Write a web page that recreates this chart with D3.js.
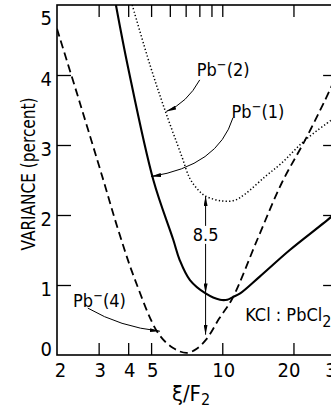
<!DOCTYPE html>
<html>
<head>
<meta charset="utf-8">
<script src="https://cdn.jsdelivr.net/npm/d3@7"></script>
<style>
  html, body { margin: 0; padding: 0; background: #fff; }
  svg { display: block; }
  text { font-family: "Liberation Sans Narrow", "DejaVu Sans Condensed", "Arial Narrow", sans-serif; fill: #000; }
</style>
</head>
<body>
<svg id="chart" width="331" height="409"></svg>
<script>
// ---------------- data ----------------
const xLabelValues = [2, 3, 4, 5, 10, 20, 30];
const xTicksBottom = [3, 4, 5, 10, 20];
const xTicksTop = [3, 4, 5, 6, 7, 8, 9, 10, 20];
const yLabelValues = [0, 1, 2, 3, 4, 5];
const yTickValues = [1, 2, 3, 4];

// Pb-(4) : dashed
const pb4Xi  = [2.0, 2.5, 3.14, 3.65, 4.28, 5.36, 6.2, 7.07, 7.8, 8.59, 9.7, 11.0, 14.19, 17.8, 22.4, 27.2, 30];
const pb4Val = [4.66, 3.6, 2.5, 1.76, 1.07, 0.31, 0.1, 0.03, 0.09, 0.23, 0.52, 0.8, 1.68, 2.45, 3.07, 3.64, 3.95];
// Pb-(1) : solid
const pb1Xi  = [3.55, 4.0, 5.11, 6.2, 6.6, 7.3, 8.5, 9.78, 10.5, 11.13, 11.9, 14.4, 19.3, 28.8, 30];
const pb1Val = [5.0, 4.1, 2.5, 1.65, 1.36, 1.07, 0.88, 0.79, 0.79, 0.83, 0.88, 1.12, 1.5, 1.97, 2.03];
// Pb-(2) : dotted
const pb2Xi  = [4.16, 4.94, 5.72, 6.72, 7.3, 7.9, 8.5, 10.0, 11.3, 12.5, 15.2, 17.8, 22.4, 29.0, 30];
const pb2Val = [5.0, 4.15, 3.5, 2.85, 2.52, 2.36, 2.27, 2.2, 2.21, 2.3, 2.55, 2.74, 3.07, 3.36, 3.4];

const markedXi = 8.5;      // vertical double arrow position
const markedTop = 2.27;    // on Pb-(2)
const markedMid = 0.88;    // on Pb-(1)
const markedBottom = 0.29; // near Pb-(4)

// ---------------- layout ----------------
const svg = d3.select("#chart");
const x = d3.scaleLog().domain([2, 30]).range([57, 335.1]);
const y = d3.scaleLinear().domain([0, 5]).range([355, 5]);

const defs = svg.append("defs");
defs.append("clipPath").attr("id", "plotclip")
  .append("rect").attr("x", x(2)).attr("y", y(5))
  .attr("width", x(30) - x(2)).attr("height", y(0) - y(5));
defs.append("marker").attr("id", "arrow")
  .attr("markerUnits", "userSpaceOnUse")
  .attr("viewBox", "0 0 10 4").attr("refX", 10).attr("refY", 2)
  .attr("markerWidth", 10).attr("markerHeight", 4).attr("orient", "auto")
  .append("path").attr("d", "M0,0 L10,2 L0,4 Z").attr("fill", "#000");

// ---------------- frame ----------------
svg.append("rect")
  .attr("x", x(2)).attr("y", y(5))
  .attr("width", x(30) - x(2)).attr("height", y(0) - y(5))
  .attr("fill", "none").attr("stroke", "#000").attr("stroke-width", 1.6);

function cleanAxis(g) {
  g.select(".domain").remove();
  g.selectAll("line").attr("stroke", "#000").attr("stroke-width", 1.3);
  g.selectAll("text").remove();
}
// inward ticks
svg.append("g").attr("transform", `translate(${x(2)},0)`)
  .call(d3.axisRight(y).tickValues(yTickValues).tickSize(14)).call(cleanAxis);
svg.append("g").attr("transform", `translate(${x(30)},0)`)
  .call(d3.axisLeft(y).tickValues(yTickValues).tickSize(12)).call(cleanAxis);
svg.append("g").attr("transform", `translate(0,${y(0)})`)
  .call(d3.axisTop(x).tickValues(xTicksBottom).tickSize(12)).call(cleanAxis);
svg.append("g").attr("transform", `translate(0,${y(5)})`)
  .call(d3.axisBottom(x).tickValues(xTicksTop).tickSize(12)).call(cleanAxis);

// tick labels
const yOff = v => v === 0 ? -7 : (v === 5 ? 12 : 3);
const yl = svg.append("g").attr("transform", `translate(${x(2)},0)`)
  .call(d3.axisLeft(y).tickValues(yLabelValues).tickSize(0).tickPadding(5)
    .tickFormat(d3.format("d")));
yl.select(".domain").remove();
yl.selectAll("text")
  .attr("font-size", 20).attr("font-family", null)
  .attr("dy", null).attr("dominant-baseline", "central")
  .attr("y", d => yOff(d));

const xl = svg.append("g").attr("transform", `translate(0,${y(0)})`)
  .call(d3.axisBottom(x).tickValues(xLabelValues).tickSize(0).tickPadding(0)
    .tickFormat(d3.format("d")));
xl.select(".domain").remove();
xl.selectAll("text")
  .attr("font-size", 20).attr("font-family", null)
  .attr("dy", null).attr("y", 22)
  .attr("x", d => d === 2 ? 3 : (d === 20 ? -5 : 1));

// axis titles
svg.append("text")
  .attr("transform", `translate(35,${(y(0) + y(5)) / 2 - 6}) rotate(-90)`)
  .attr("text-anchor", "middle").attr("font-size", 20)
  .attr("textLength", 153).attr("lengthAdjust", "spacingAndGlyphs")
  .text("VARIANCE (percent)");

const xt = svg.append("text")
  .attr("x", 191).attr("y", 401)
  .attr("text-anchor", "middle").attr("font-size", 22);
xt.append("tspan").text("ξ/F");
xt.append("tspan").attr("dy", 4).attr("font-size", 16).text("2");

// ---------------- curves ----------------
const plot = svg.append("g").attr("clip-path", "url(#plotclip)");
const line = d3.line().x(d => x(d[0])).y(d => y(d[1])).curve(d3.curveCatmullRom.alpha(0.5));
const zip = (a, b) => a.map((v, i) => [v, b[i]]);

plot.append("path").datum(zip(pb4Xi, pb4Val))
  .attr("d", line).attr("fill", "none").attr("stroke", "#000")
  .attr("stroke-width", 1.8).attr("stroke-dasharray", "8,4.5");
plot.append("path").datum(zip(pb1Xi, pb1Val))
  .attr("d", line).attr("fill", "none").attr("stroke", "#000")
  .attr("stroke-width", 2.1);
plot.append("path").datum(zip(pb2Xi, pb2Val))
  .attr("d", line).attr("fill", "none").attr("stroke", "#000")
  .attr("stroke-width", 1.5).attr("stroke-dasharray", "1.3,2.2");

// ---------------- annotations ----------------
function pbLabel(xi, v, n) {
  const t = svg.append("text").attr("x", x(xi)).attr("y", y(v)).attr("font-size", 18);
  t.append("tspan").text("Pb");
  t.append("tspan").attr("dy", -7).attr("font-size", 13).text("−");
  t.append("tspan").attr("dy", 7).text(`(${n})`);
}
pbLabel(7.8, 3.99, 2);
pbLabel(10.95, 3.39, 1);
pbLabel(2.34, 0.69, 4);

const kcl = svg.append("text").attr("x", x(12.5)).attr("y", y(0.48)).attr("font-size", 18);
kcl.append("tspan").text("KCl : PbCl");
kcl.append("tspan").attr("dy", 6).attr("font-size", 16).text("2");

// leader arrows (data coords: start, control, end)
const leaders = [
  [[8.03, 3.93], [7.1, 3.6], [5.8, 3.48]],
  [[11.1, 3.39], [9.6, 2.7], [5.0, 2.55]],
  [[2.7, 0.67], [3.7, 0.4], [5.45, 0.34]]
];
leaders.forEach(([p0, c, p1]) => {
  const path = d3.path();
  path.moveTo(x(p0[0]), y(p0[1]));
  path.quadraticCurveTo(x(c[0]), y(c[1]), x(p1[0]), y(p1[1]));
  svg.append("path").attr("d", path.toString()).attr("fill", "none")
    .attr("stroke", "#000").attr("stroke-width", 1).attr("marker-end", "url(#arrow)");
});

// vertical 8.5 marker
const xm = x(markedXi);
svg.append("text").attr("x", xm).attr("y", y(1.63)).attr("text-anchor", "middle")
  .attr("font-size", 18).text("8.5");
svg.append("line").attr("x1", xm).attr("x2", xm).attr("y1", y(1.63) - 15).attr("y2", y(markedTop))
  .attr("stroke", "#000").attr("stroke-width", 1).attr("marker-end", "url(#arrow)");
svg.append("line").attr("x1", xm).attr("x2", xm).attr("y1", y(1.63) + 3).attr("y2", y(markedMid))
  .attr("stroke", "#000").attr("stroke-width", 1).attr("marker-end", "url(#arrow)");
svg.append("line").attr("x1", xm).attr("x2", xm).attr("y1", y(markedMid)).attr("y2", y(markedBottom))
  .attr("stroke", "#000").attr("stroke-width", 1).attr("marker-end", "url(#arrow)");
</script>
</body>
</html>
